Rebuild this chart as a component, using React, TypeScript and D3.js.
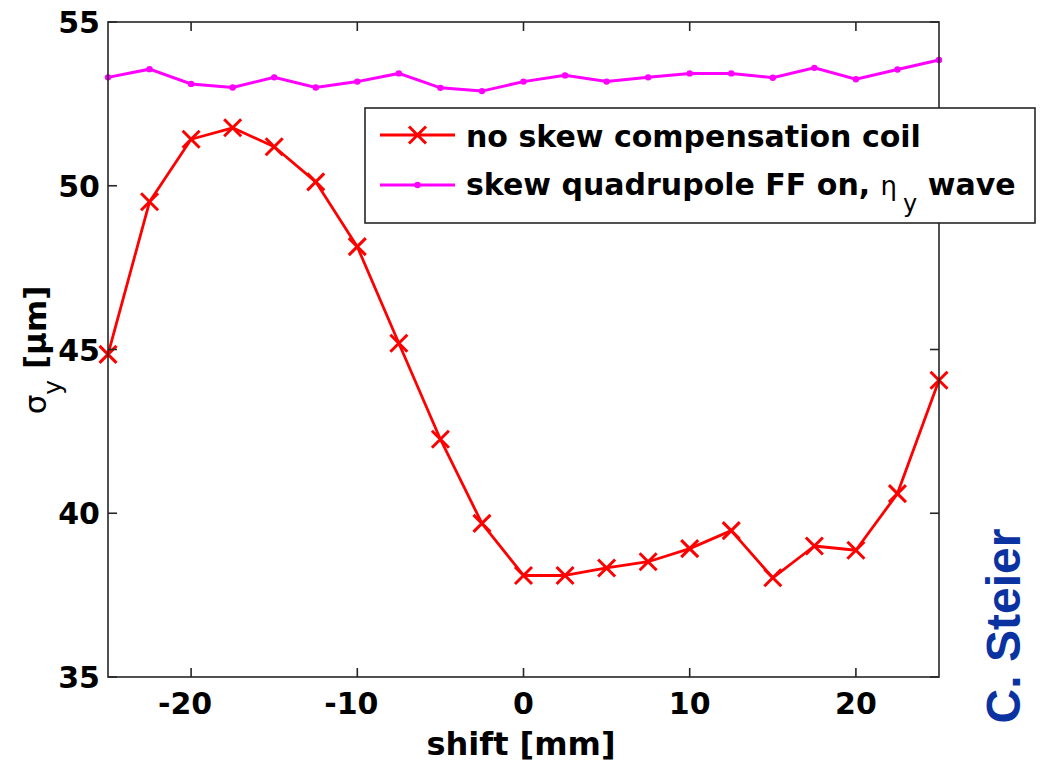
import React from "react";
import * as d3 from "d3";

const shiftMm = [-25, -22.5, -20, -17.5, -15, -12.5, -10, -7.5, -5, -2.5, 0, 2.5, 5, 7.5, 10, 12.5, 15, 17.5, 20, 22.5, 25];
const noSkewCoil = [44.85, 49.51, 51.42, 51.77, 51.19, 50.12, 48.14, 45.19, 42.26, 39.69, 38.1, 38.1, 38.33, 38.52, 38.92, 39.47, 38.03, 39.0, 38.87, 40.6, 44.06];
const skewQuadFF = [53.31, 53.56, 53.11, 53.0, 53.31, 53.0, 53.18, 53.43, 52.99, 52.89, 53.18, 53.37, 53.18, 53.31, 53.43, 53.43, 53.3, 53.6, 53.25, 53.55, 53.84];
const xTicks = [-20, -10, 0, 10, 20];
const yTicks = [35, 40, 45, 50, 55];
const xDomain = [-25, 25];
const yDomain = [35, 55];

const W = 1040;
const H = 764;
const M = { left: 108, right: 939, top: 22, bottom: 677 };
const AX = "#262626";
const RED = "#ff0000";
const MAG = "#ff00ff";
const FONT = "'DejaVu Sans', sans-serif";

export default function App() {
  const x = d3.scaleLinear().domain(xDomain).range([M.left, M.right]);
  const y = d3.scaleLinear().domain(yDomain).range([M.bottom, M.top]);
  const redPts = shiftMm.map((s, i) => [s, noSkewCoil[i]] as [number, number]);
  const magPts = shiftMm.map((s, i) => [s, skewQuadFF[i]] as [number, number]);
  const line = d3
    .line<[number, number]>()
    .x((d) => x(d[0]))
    .y((d) => y(d[1]));
  const xMark = "M-8.5,-8.5L8.5,8.5M-8.5,8.5L8.5,-8.5";
  const tickLen = 9;

  const legX = 365, legY = 108, legW = 670, legH = 115;
  const row1 = 135, row2 = 185;

  return (
    <svg
      width={W}
      height={H}
      viewBox={`0 0 ${W} ${H}`}
      style={{ position: "absolute", left: 0, top: 0, background: "#fff" }}
    >
      <rect x={0} y={0} width={W} height={H} fill="#fff" />
      {/* series */}
      <path d={line(magPts) || ""} fill="none" stroke={MAG} strokeWidth={3} />
      {magPts.map((d, i) => (
        <circle key={"m" + i} cx={x(d[0])} cy={y(d[1])} r={3.2} fill={MAG} />
      ))}
      <path d={line(redPts) || ""} fill="none" stroke={RED} strokeWidth={2.8} strokeLinejoin="round" />
      {redPts.map((d, i) => (
        <path key={"r" + i} d={xMark} transform={`translate(${x(d[0])},${y(d[1])})`} stroke={RED} strokeWidth={3} fill="none" />
      ))}

      {/* axes box */}
      <rect x={M.left} y={M.top} width={M.right - M.left} height={M.bottom - M.top} fill="none" stroke={AX} strokeWidth={1.6} />
      {xTicks.map((t) => (
        <g key={"xt" + t}>
          <line x1={x(t)} x2={x(t)} y1={M.bottom} y2={M.bottom - tickLen} stroke={AX} strokeWidth={1.6} />
          <line x1={x(t)} x2={x(t)} y1={M.top} y2={M.top + tickLen} stroke={AX} strokeWidth={1.6} />
          <text
            x={x(t)}
            dx={t < 0 ? -6 : 0}
            y={714}
            textAnchor="middle"
            fontFamily={FONT}
            fontWeight="bold"
            fontSize={30}
            fill="#000"
          >
            {t < 0 ? "-" + Math.abs(t) : String(t)}
          </text>
        </g>
      ))}
      {yTicks.map((t) => (
        <g key={"yt" + t}>
          <line x1={M.left} x2={M.left + tickLen} y1={y(t)} y2={y(t)} stroke={AX} strokeWidth={1.6} />
          <line x1={M.right} x2={M.right - tickLen} y1={y(t)} y2={y(t)} stroke={AX} strokeWidth={1.6} />
          <text
            x={100}
            y={y(t) + 11}
            textAnchor="end"
            fontFamily={FONT}
            fontWeight="bold"
            fontSize={30}
            fill="#000"
          >
            {t}
          </text>
        </g>
      ))}

      {/* axis labels */}
      <text x={521} y={755} textAnchor="middle" fontFamily={FONT} fontWeight="bold" fontSize={32} fill="#000">
        shift [mm]
      </text>
      <text transform="translate(46,350) rotate(-90)" textAnchor="middle" fontFamily={FONT} fontSize={31} fill="#000">
        <tspan fontWeight="normal">σ</tspan>
        <tspan fontWeight="normal" fontSize={25} dy={15}>y</tspan>
        <tspan fontWeight="bold" dy={-15}> [μm]</tspan>
      </text>

      {/* legend */}
      <rect x={legX} y={legY} width={legW} height={legH} fill="#fff" stroke={AX} strokeWidth={1.6} />
      <line x1={380} x2={455} y1={row1} y2={row1} stroke={RED} strokeWidth={2.8} />
      <path d={xMark} transform={`translate(417.5,${row1})`} stroke={RED} strokeWidth={3} fill="none" />
      <text x={466} y={147} fontFamily={FONT} fontWeight="bold" fontSize={30} fill="#000">
        no skew compensation coil
      </text>
      <line x1={380} x2={455} y1={row2} y2={row2} stroke={MAG} strokeWidth={3} />
      <circle cx={417.5} cy={row2} r={3.2} fill={MAG} />
      <text x={466} y={195} fontFamily={FONT} fontWeight="bold" fontSize={30} fill="#000" xmlSpace="preserve">
        <tspan>{"skew quadrupole FF on, "}</tspan>
        <tspan fontWeight="normal" fontSize={26}>η</tspan>
        <tspan fontWeight="normal" fontSize={24} dx={6} dy={17}>y</tspan>
        <tspan dy={-17}>{" wave"}</tspan>
      </text>

      {/* credit */}
      <text
        transform="translate(1020,626) rotate(-90)"
        textAnchor="middle"
        fontFamily="'Liberation Sans', Arial, sans-serif"
        fontWeight="bold"
        fontSize={48}
        fill="#0a32a0"
      >
        C. Steier
      </text>
    </svg>
  );
}
